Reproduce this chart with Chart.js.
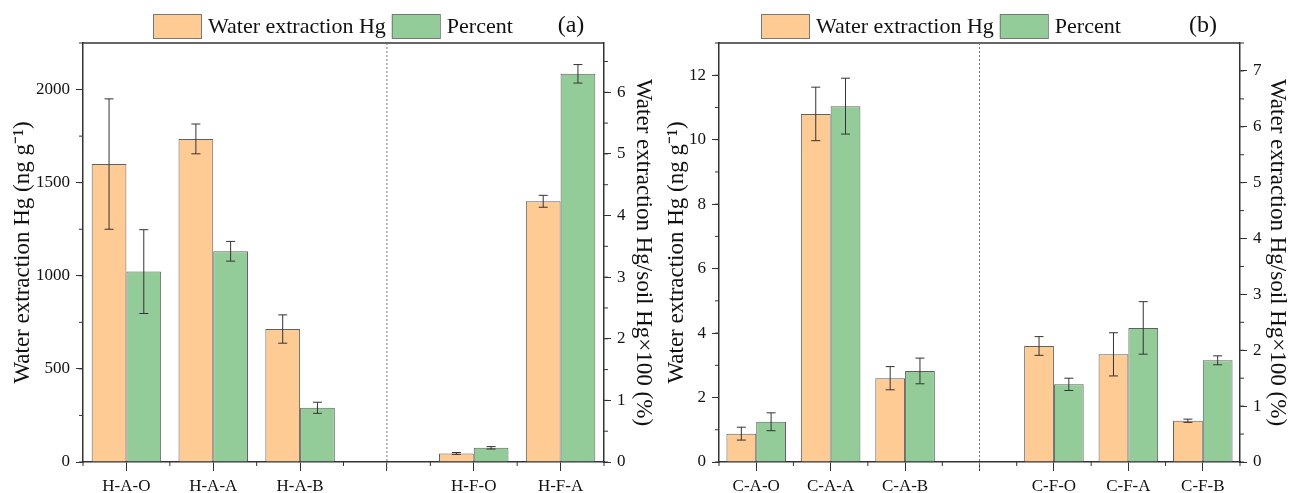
<!DOCTYPE html>
<html>
<head>
   <meta charset="utf-8">
   <script src="https://cdn.jsdelivr.net/npm/chart.js@4.4.0/dist/chart.umd.min.js"></script>
   <title>Water extraction Hg</title>
   <style>
      body { margin: 0; background: #fff; }
      canvas { position: absolute; top: 0; }
   </style>
</head>
<body>
<canvas id="chartA" width="660" height="493" style="left:0px"></canvas>
<canvas id="chartB" width="629" height="493" style="left:660px"></canvas>
<script>
   // panel (a)
   const labelsA = ['H-A-O', 'H-A-A', 'H-A-B', '', 'H-F-O', 'H-F-A'];
   const hgA = [1600, 1735, 714, null, 46, 1400];
   const hgErrA = [350, 80, 76, null, 5, 32];
   const pctA = [3.09, 3.42, 0.88, null, 0.23, 6.30];
   const pctErrA = [0.68, 0.16, 0.09, null, 0.02, 0.15];
   const hgTicksA = [0, 500, 1000, 1500, 2000];
   const pctTicksA = [0, 1, 2, 3, 4, 5, 6];

   // panel (b)
   const labelsB = ['C-A-O', 'C-A-A', 'C-A-B', '', 'C-F-O', 'C-F-A', 'C-F-B'];
   const hgB = [0.88, 10.8, 2.6, null, 3.6, 3.34, 1.28];
   const hgErrB = [0.2, 0.83, 0.36, null, 0.29, 0.67, 0.05];
   const pctB = [0.72, 6.37, 1.63, null, 1.39, 2.40, 1.82];
   const pctErrB = [0.16, 0.5, 0.23, null, 0.11, 0.47, 0.08];
   const hgTicksB = [0, 2, 4, 6, 8, 10, 12];
   const pctTicksB = [0, 1, 2, 3, 4, 5, 6, 7];

   const serif = 'Liberation Serif';
   const axisColor = '#333';

   // error bars, frame, dotted separator, minor ticks, legend
   const decor = {
      id: 'decor',
      afterDatasetsDraw(chart) {
         const ctx = chart.ctx;
         ctx.save();
         ctx.strokeStyle = '#333';
         ctx.lineWidth = 1;
         chart.data.datasets.forEach((ds, i) => {
            const meta = chart.getDatasetMeta(i);
            const ys = chart.scales[ds.yAxisID];
            meta.data.forEach((bar, j) => {
               const v = ds.data[j], e = ds.errors[j];
               if (v == null || e == null) return;
               const t = ys.getPixelForValue(v + e);
               const b = ys.getPixelForValue(v - e);
               ctx.beginPath();
               ctx.moveTo(bar.x, t); ctx.lineTo(bar.x, b);
               ctx.moveTo(bar.x - 4.5, t); ctx.lineTo(bar.x + 4.5, t);
               ctx.moveTo(bar.x - 4.5, b); ctx.lineTo(bar.x + 4.5, b);
               ctx.stroke();
            });
         });
         ctx.restore();
      },
      afterDraw(chart, args, opts) {
         const ctx = chart.ctx, area = chart.chartArea;
         const xs = chart.scales.x;
         ctx.save();
         // top frame line
         ctx.strokeStyle = axisColor;
         ctx.lineWidth = 1.5;
         ctx.beginPath();
         ctx.moveTo(area.left, area.top);
         ctx.lineTo(area.right, area.top);
         ctx.stroke();

         // minor ticks on x (category borders)
         ctx.lineWidth = 1;
         const step = xs.getPixelForTick(1) - xs.getPixelForTick(0);
         ctx.beginPath();
         for (let i = 0; i <= chart.data.labels.length; i++) {
            const x = xs.getPixelForTick(0) - step / 2 + i * step;
            ctx.moveTo(x, area.bottom);
            ctx.lineTo(x, area.bottom + 4);
         }
         // minor ticks on y axes
         [['y', opts.minorY, -1], ['y1', opts.minorY1, 1]].forEach(([id, m, dir]) => {
            const s = chart.scales[id];
            const x0 = dir < 0 ? area.left : area.right;
            for (let v = 0; v <= s.max + 1e-9; v += m) {
               const y = s.getPixelForValue(v);
               ctx.moveTo(x0, y);
               ctx.lineTo(x0 + dir * 4, y);
            }
         });
         ctx.stroke();

         // dotted separator
         const gx = xs.getPixelForTick(opts.gap);
         ctx.strokeStyle = '#777';
         ctx.setLineDash([2, 2]);
         ctx.beginPath();
         ctx.moveTo(gx, area.top);
         ctx.lineTo(gx, area.bottom + 8);
         ctx.stroke();
         ctx.setLineDash([]);

         // legend
         ctx.font = '22px ' + serif;
         ctx.textBaseline = 'middle';
         ctx.textAlign = 'left';
         let lx = opts.legendX;
         chart.data.datasets.forEach(ds => {
            ctx.fillStyle = ds.backgroundColor;
            ctx.fillRect(lx, 14, 48, 24);
            ctx.strokeStyle = '#777';
            ctx.lineWidth = 1;
            ctx.strokeRect(lx + 0.5, 14.5, 48, 24);
            ctx.fillStyle = '#111';
            ctx.fillText(ds.label, lx + 55, 27);
            lx += 55 + ctx.measureText(ds.label).width + 6;
         });

         // panel letter
         ctx.font = '24px ' + serif;
         ctx.textAlign = 'center';
         ctx.fillText(opts.letter, opts.letterX, 26);
         ctx.restore();
      }
   };

   function makeChart(id, labels, hg, hgErr, pct, pctErr, hgTicks, pctTicks, p) {
      const tickFont = { family: serif, size: 17 };
      const titleFont = { family: serif, size: 23, lineHeight: 1 };
      return new Chart(document.getElementById(id), {
         type: 'bar',
         data: {
            labels: labels,
            datasets: [
               {
                  label: 'Water extraction Hg',
                  data: hg,
                  errors: hgErr,
                  yAxisID: 'y',
                  backgroundColor: '#FECB95',
                  borderColor: '#606060',
                  borderWidth: 1,
                  categoryPercentage: 0.8,
                  barPercentage: 1.0
               },
               {
                  label: 'Percent',
                  data: pct,
                  errors: pctErr,
                  yAxisID: 'y1',
                  backgroundColor: '#94CC99',
                  borderColor: '#606060',
                  borderWidth: 1,
                  categoryPercentage: 0.8,
                  barPercentage: 1.0
               }
            ]
         },
         options: {
            responsive: false,
            animation: false,
            layout: { padding: { top: 43, left: 0, right: 0, bottom: 0 } },
            plugins: {
               legend: { display: false },
               tooltip: { enabled: false },
               decor: p.decor
            },
            scales: {
               x: {
                  grid: { offset: false, drawOnChartArea: false, tickLength: 9, color: axisColor },
                  border: { color: axisColor, width: 1.5 },
                  ticks: { font: tickFont, color: '#111', padding: 5, maxRotation: 0, autoSkip: false },
                  afterFit(s) { s.height = 31; }
               },
               y: {
                  position: 'left',
                  min: 0,
                  max: p.yMax,
                  afterBuildTicks(s) { s.ticks = hgTicks.map(v => ({ value: v })); },
                  ticks: { font: tickFont, color: '#111', padding: 6, callback: v => String(v) },
                  grid: { drawOnChartArea: false, tickLength: 7, color: axisColor },
                  border: { color: axisColor, width: 1.5 },
                  title: { display: true, text: 'Water extraction Hg (ng g\u207B\u00B9)', font: titleFont,
                     color: '#111', padding: { top: p.leftPad, bottom: 0 } },
                  afterFit(s) { s.width = p.leftW; }
               },
               y1: {
                  position: 'right',
                  min: 0,
                  max: p.y1Max,
                  afterBuildTicks(s) { s.ticks = pctTicks.map(v => ({ value: v })); },
                  ticks: { font: tickFont, color: '#111', padding: 6, callback: v => String(v) },
                  grid: { drawOnChartArea: false, tickLength: 7, color: axisColor },
                  border: { color: axisColor, width: 1.5 },
                  title: { display: true, text: 'Water extraction Hg/soil Hg\u00D7100 (%)', font: titleFont,
                     color: '#111', padding: { top: p.rightPad, bottom: 0 } },
                  afterFit(s) { s.width = p.rightW; }
               }
            }
         },
         plugins: [decor]
      });
   }

   makeChart('chartA', labelsA, hgA, hgErrA, pctA, pctErrA, hgTicksA, pctTicksA, {
      yMax: 2250, y1Max: 6.8, leftW: 83, rightW: 56, leftPad: 11, rightPad: 5,
      decor: { minorY: 250, minorY1: 0.5, gap: 3, legendX: 153, letter: '(a)', letterX: 571 }
   });

   makeChart('chartB', labelsB, hgB, hgErrB, pctB, pctErrB, hgTicksB, pctTicksB, {
      yMax: 13, y1Max: 7.5, leftW: 59, rightW: 49, leftPad: 5, rightPad: 0,
      decor: { minorY: 1, minorY1: 0.5, gap: 3, legendX: 101, letter: '(b)', letterX: 543 }
   });
</script>
</body>
</html>
